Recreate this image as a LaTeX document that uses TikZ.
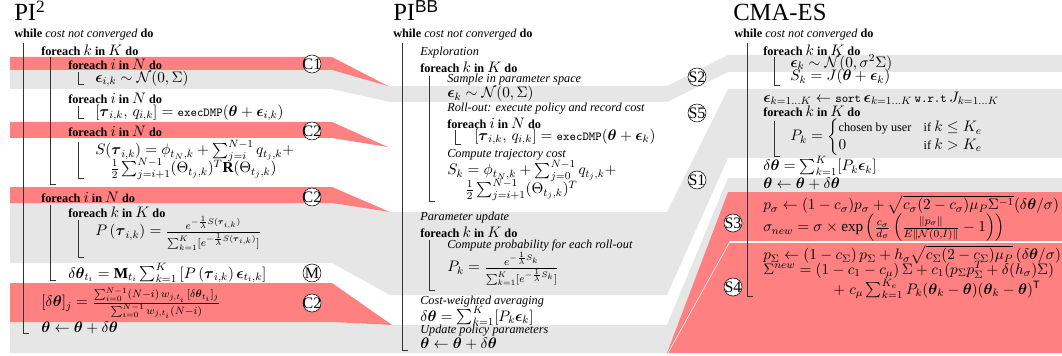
\documentclass[tikz,border=0pt]{standalone}
\usepackage{fix-cm}
\usepackage{amsmath,amssymb}
\usepackage{fontspec}
\setmainfont{Liberation Serif}
\setsansfont{Liberation Sans}
\usepackage{tikz}
\DeclareMathSizes{9.2}{11.4}{8}{6}
\definecolor{bandred}{RGB}{255,128,128}
\definecolor{bandgray}{RGB}{230,230,230}
\newcommand\algsize{\fontsize{9.2}{11}\selectfont}
\newcommand\fe[2]{\textbf{foreach} $#1$ \textbf{in} $#2$ \textbf{do}}
\newcommand\wh{\textbf{while} \textit{cost not converged} \textbf{do}}
\newcommand\bth{\boldsymbol{\theta}}
\newcommand\bep{\boldsymbol{\epsilon}}
\newcommand\btau{\boldsymbol{\tau}}

\begin{document}
\begin{tikzpicture}[x=0.75pt,y=-0.75pt,
  alg/.style={anchor=west,inner sep=0pt,font=\algsize},
  ttl/.style={anchor=base west,inner sep=0pt,font=\fontsize{18.5}{20}\selectfont},
  tag/.style={circle,draw,fill=white,inner sep=-3pt,minimum size=13.5pt,font=\fontsize{12}{12}\selectfont},
  loopbar/.style={black!80,line width=0.6pt}]
\useasboundingbox (0,0) rectangle (1062,356);
\fill[bandgray] (10,70) -- (332,70) -- (390,86) -- (667,86) -- (728,55) -- (1062,55)
  -- (1062,72) -- (728,72) -- (667,102) -- (390,102) -- (332,89) -- (10,89) -- cycle;
\fill[bandgray] (10,203) -- (332,203) -- (390,212) -- (667,212) -- (728,89) -- (1062,89)
  -- (1062,158) -- (728,158) -- (667,295) -- (390,295) -- (332,263) -- (10,263) -- cycle;
\fill[bandgray] (10,322) -- (332,322) -- (392,325) -- (667,325) -- (728,178) -- (1062,178)
  -- (1062,192) -- (728,192) -- (667,353) -- (10,353) -- cycle;
\fill[bandred] (10,57) -- (332,57) -- (388,86) -- (332,70) -- (10,70) -- cycle;
\fill[bandred] (10,122) -- (332,122) -- (388,147) -- (332,138) -- (10,138) -- cycle;
\fill[bandred] (10,187) -- (332,187) -- (390,212) -- (332,203) -- (10,203) -- cycle;
\fill[bandred] (10,283) -- (332,283) -- (392,325) -- (332,322) -- (10,322) -- cycle;
\fill[bandred] (728,192) -- (1062,192) -- (1062,353) -- (667,353) -- cycle;
\draw[white,line width=1.5pt] (730,241.5) -- (1062,241.5);
\draw[white,line width=0.4pt] (730,241.5) -- (668,353);

\node[ttl] (t1) at (14,21) {PI\textsuperscript{2}};
\node[ttl] (t2) at (393,21) {PI\textsuperscript{\sffamily BB}};
\node[ttl] (t3) at (733,21) {CMA-ES};

\node[alg] (a1) at (14,35) {\wh};
\node[alg] (a2) at (41,50) {\fe{k}{K}};
\node[alg] (a3) at (68,64) {\fe{i}{N}};
\node[alg] (a4) at (95,79) {$\bep_{i,k} \sim \mathcal{N}(0,\Sigma)$};
\node[alg] (a5) at (68,98) {\fe{i}{N}};
\node[alg] (a6) at (95,113) {$[\btau_{i,k},\, q_{i,k}] = \texttt{execDMP}(\bth+\bep_{i,k})$};
\node[alg] (a7) at (68,131) {\fe{i}{N}};
\node[alg] (a8) at (95,151) {$S(\btau_{i,k}) = \phi_{t_N,k} + \sum_{j=i}^{N-1} q_{t_j,k} +$};
\node[alg] (a9) at (110,169) {$\frac{1}{2}\sum_{j=i+1}^{N-1}(\Theta_{t_j,k})^T\mathbf{R}(\Theta_{t_j,k})$};
\node[alg] (a10) at (41,197) {\fe{i}{N}};
\node[alg] (a11) at (68,212) {\fe{k}{K}};
\node[alg] (a12) at (95,233) {$P\left(\btau_{i,k}\right) = \frac{e^{-\frac{1}{\lambda}S(\btau_{i,k})}}{\sum_{k=1}^{K}[e^{-\frac{1}{\lambda}S(\btau_{i,k})}]}$};
\node[alg] (a13) at (68,273) {$\delta\bth_{t_i} = \mathbf{M}_{t_i}\sum_{k=1}^{K}\left[P\left(\btau_{i,k}\right)\bep_{t_i,k}\right]$};
\node[alg] (a14) at (41,303) {$[\delta\bth]_j = \frac{\sum_{i=0}^{N-1}(N-i)\,w_{j,t_i}\,[\delta\bth_{t_i}]_j}{\sum_{i=0}^{N-1}w_{j,t_i}(N-i)}$};
\node[alg] (a15) at (41,328) {$\bth \leftarrow \bth + \delta\bth$};
\draw[loopbar] (23,43) |- (29,333);
\draw[loopbar] (50,57) |- (56,184);
\draw[loopbar] (78,72) |- (84,84);
\draw[loopbar] (78,106) |- (84,118);
\draw[loopbar] (78,142) |- (84,178);
\draw[loopbar] (50,205) |- (56,280);
\draw[loopbar] (78,220) |- (84,257);

\node[alg] (b1) at (393,35) {\wh};
\node[alg] (b2) at (420,53) {\textit{Exploration}};
\node[alg] (b3) at (420,67) {\fe{k}{K}};
\node[alg] (b4) at (447,80) {\textit{Sample in parameter space}};
\node[alg] (b5) at (447,94) {$\bep_k \sim \mathcal{N}(0,\Sigma)$};
\node[alg] (b6) at (447,109) {\textit{Roll-out: execute policy and record cost}};
\node[alg] (b7) at (447,123) {\fe{i}{N}};
\node[alg] (b8) at (474,137) {$[\btau_{i,k},\, q_{i,k}] = \texttt{execDMP}(\bth+\bep_k)$};
\node[alg] (b9) at (447,155) {\textit{Compute trajectory cost}};
\node[alg] (b10) at (447,171) {$S_k = \phi_{t_N,k} + \sum_{j=0}^{N-1} q_{t_j,k} +$};
\node[alg] (b11) at (465,190) {$\frac{1}{2}\sum_{j=i+1}^{N-1}(\Theta_{t_j,k})^T$};
\node[alg] (b12) at (420,218) {\textit{Parameter update}};
\node[alg] (b13) at (420,232) {\fe{k}{K}};
\node[alg] (b14) at (447,246) {\textit{Compute probability for each roll-out}};
\node[alg] (b15) at (447,269) {$P_k = \frac{e^{-\frac{1}{\lambda}S_k}}{\sum_{k=1}^{K}[e^{-\frac{1}{\lambda}S_k}]}$};
\node[alg] (b16) at (420,302) {\textit{Cost-weighted averaging}};
\node[alg] (b17) at (420,316) {$\delta\bth = \sum_{k=1}^{K}[P_k\bep_k]$};
\node[alg] (b18) at (420,331) {\textit{Update policy parameters}};
\node[alg] (b19) at (420,344) {$\bth \leftarrow \bth + \delta\bth$};
\draw[loopbar] (402,43) |- (408,350);
\draw[loopbar] (429,76) |- (435,201);
\draw[loopbar] (455,130) |- (461,144);
\draw[loopbar] (429,240) |- (435,290);

\node[alg] (c1) at (734,35) {\wh};
\node[alg] (c2) at (763,50) {\fe{k}{K}};
\node[alg] (c3) at (790,63) {$\bep_k \sim \mathcal{N}(0,\sigma^2\Sigma)$};
\node[alg] (c4) at (790,77) {$S_k = J(\bth+\bep_k)$};
\node[alg] (c5) at (763,98) {$\bep_{k=1\dots K} \leftarrow \texttt{sort}\,\bep_{k=1\dots K}\,\texttt{w.r.t}\,J_{k=1\dots K}$};
\node[alg] (c6) at (763,111) {\fe{k}{K}};
\node[alg] (c7) at (790,137) {$P_k = \begin{cases}\text{chosen by user} & \text{if } k \leq K_e\\ 0 & \text{if } k > K_e\end{cases}$};
\node[alg] (c8) at (763,166) {$\delta\bth = \sum_{k=1}^{K}[P_k\bep_k]$};
\node[alg] (c9) at (763,184) {$\bth \leftarrow \bth + \delta\bth$};
\node[alg] (c10) at (763,205) {$p_\sigma \leftarrow (1-c_\sigma)p_\sigma + \sqrt{c_\sigma(2-c_\sigma)\mu_P\Sigma^{-1}}(\delta\bth/\sigma)$};
\node[alg] (c11) at (763,228) {$\sigma_{new} = \sigma\times\exp\left(\frac{c_\sigma}{d_\sigma}\left(\frac{\|p_\sigma\|}{E\|\mathcal{N}(0,I)\|}-1\right)\right)$};
\node[alg] (c12) at (763,255) {$p_\Sigma \leftarrow (1-c_\Sigma)\,p_\Sigma + h_\sigma\sqrt{c_\Sigma(2-c_\Sigma)\mu_P}\,(\delta\bth/\sigma)$};
\node[alg] (c13) at (763,270) {$\Sigma^{new} = (1-c_1-c_\mu)\,\Sigma + c_1(p_\Sigma p_\Sigma^T + \delta(h_\sigma)\Sigma)$};
\node[alg] (c14) at (833,289) {$+\; c_\mu\sum_{k=1}^{K_e}P_k(\bth_k-\bth)(\bth_k-\bth)^{\mathsf{T}}$};
\draw[loopbar] (747,43) |- (753,296);
\draw[loopbar] (774,57) |- (780,85);
\draw[loopbar] (774,121) |- (780,156);

\foreach \nm/\px/\py/\txt in {l1/312/64/C1, l2/312/131/C2, l3/312/197/C2, l4/312/273/M,
  l5/312/303/C2, l6/697/77/S2, l7/697/113/S5, l8/697/180/S1, l9/733/223/S3, l10/733/287/S4}
  \node[tag] (\nm) at (\px,\py) {\txt};
\end{tikzpicture}
\end{document}
